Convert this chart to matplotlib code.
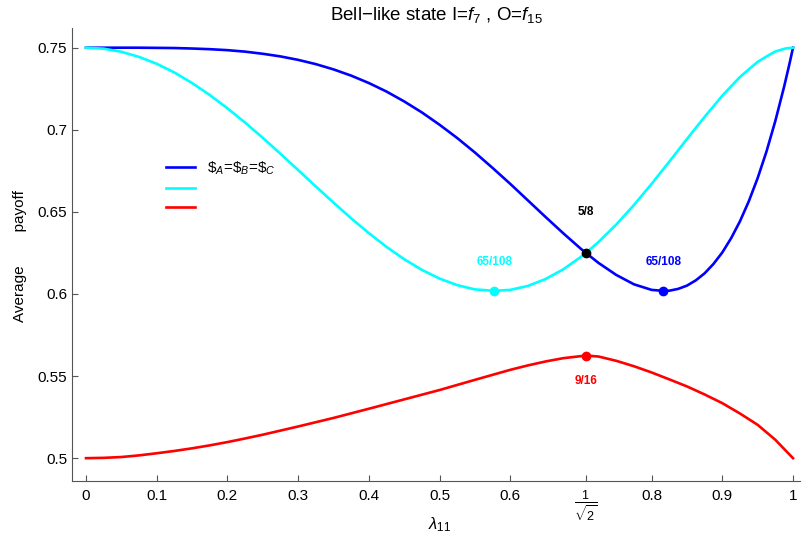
import matplotlib
matplotlib.use("Agg")
import matplotlib.pyplot as plt
from matplotlib import font_manager as fm

# evitar a variante Narrow da Liberation Sans
fm.fontManager.ttflist = [f for f in fm.fontManager.ttflist if "Narrow" not in f.fname]

plt.rcParams['font.family'] = ['Liberation Sans', 'DejaVu Sans']
plt.rcParams['mathtext.fontset'] = 'custom'
plt.rcParams['mathtext.rm'] = 'Liberation Sans'
plt.rcParams['mathtext.it'] = 'Liberation Sans:italic'
plt.rcParams['mathtext.bf'] = 'Liberation Sans:bold'

# valores
lam_azul = [0, 0.025, 0.05, 0.075, 0.1, 0.125, 0.15, 0.175, 0.2, 0.225, 0.25, 0.275, 0.3,
            0.325, 0.35, 0.375, 0.4, 0.425, 0.45, 0.475, 0.5, 0.525, 0.55, 0.575, 0.6,
            0.625, 0.65, 0.675, 0.7, 0.7071, 0.725, 0.75, 0.775, 0.8, 0.8165, 0.825,
            0.8375, 0.85, 0.8625, 0.875, 0.8875, 0.9, 0.9125, 0.925, 0.9375, 0.95,
            0.9625, 0.975, 0.9875, 0.995, 1.0]
payoff_azul = [0.75, 0.75, 0.75, 0.75, 0.7499, 0.7498, 0.7495, 0.7491, 0.7485, 0.7476,
               0.7463, 0.7447, 0.7426, 0.7400, 0.7368, 0.7330, 0.7285, 0.7233, 0.7173,
               0.7106, 0.7031, 0.6950, 0.6862, 0.6768, 0.6671, 0.6570, 0.6469, 0.6370,
               0.6275, 0.625, 0.6189, 0.6116, 0.6059, 0.6025, 0.6019, 0.6020, 0.6031,
               0.6051, 0.6083, 0.6126, 0.6183, 0.6253, 0.6340, 0.6443, 0.6565, 0.6706,
               0.6868, 0.7054, 0.7264, 0.7402, 0.75]

lam_ciano = [0, 0.025, 0.05, 0.075, 0.1, 0.125, 0.15, 0.175, 0.2, 0.225, 0.25, 0.275, 0.3,
             0.325, 0.35, 0.375, 0.4, 0.425, 0.45, 0.475, 0.5, 0.525, 0.55, 0.5774, 0.6,
             0.625, 0.65, 0.675, 0.7, 0.7071, 0.725, 0.75, 0.775, 0.8, 0.825, 0.85, 0.875,
             0.9, 0.925, 0.95, 0.965, 0.975, 0.99, 1.0]
payoff_ciano = [0.75, 0.7494, 0.7475, 0.7444, 0.7402, 0.7349, 0.7285, 0.7212, 0.7131,
                0.7044, 0.6951, 0.6854, 0.6755, 0.6655, 0.6557, 0.6461, 0.6371, 0.6287,
                0.6212, 0.6147, 0.6094, 0.6054, 0.6028, 0.6019, 0.6025, 0.6049, 0.6091,
                0.6150, 0.6226, 0.625, 0.6317, 0.6423, 0.6542, 0.6671, 0.6806, 0.6944,
                0.7079, 0.7208, 0.7322, 0.7414, 0.7453, 0.7477, 0.7496, 0.75]

lam_verm = [0, 0.025, 0.05, 0.075, 0.1, 0.125, 0.15, 0.175, 0.2, 0.225, 0.25, 0.275, 0.3,
            0.35, 0.4, 0.45, 0.5, 0.55, 0.6, 0.625, 0.65, 0.675, 0.7071, 0.725, 0.75,
            0.775, 0.8, 0.825, 0.85, 0.875, 0.9, 0.925, 0.95, 0.975, 1.0]
payoff_verm = [0.5, 0.5002, 0.5007, 0.5017, 0.503, 0.5044, 0.506, 0.5078, 0.5098, 0.512,
               0.5143, 0.5168, 0.5193, 0.5245, 0.5301, 0.5358, 0.5415, 0.5477, 0.5538,
               0.5565, 0.5589, 0.5609, 0.5625, 0.5619, 0.5593, 0.556, 0.5522, 0.548,
               0.5437, 0.5388, 0.5335, 0.5272, 0.5203, 0.5112, 0.5]

# pontos destacados
pontos_x = [0.7071, 0.5774, 0.8165, 0.7071]
pontos_y = [0.625, 0.6019, 0.6019, 0.5625]
pontos_txt = ["5/8", "65/108", "65/108", "9/16"]
pontos_cor = ["black", "#00ffff", "#0000ff", "#ff0000"]
txt_y = [0.650, 0.6197, 0.6197, 0.5472]

xticks = [0, 0.1, 0.2, 0.3, 0.4, 0.5, 0.6, 0.7071, 0.8, 0.9, 1.0]
xtick_labels = ["0", "0.1", "0.2", "0.3", "0.4", "0.5", "0.6", r"$\frac{1}{\sqrt{2}}$", "0.8", "0.9", "1"]
yticks = [0.5, 0.55, 0.6, 0.65, 0.7, 0.75]
ytick_labels = ["0.5", "0.55", "0.6", "0.65", "0.7", "0.75"]

fig = plt.figure(figsize=(8.01, 5.44), dpi=100)
ax = fig.add_axes([72 / 801, 63 / 544, 729 / 801, 453 / 544])

ax.plot(lam_azul, payoff_azul, color="#0000ff", lw=1.9, label=r"\$$_A$=\$$_B$=\$$_C$")
ax.plot(lam_ciano, payoff_ciano, color="#00ffff", lw=1.9, label=" ")
ax.plot(lam_verm, payoff_verm, color="#ff0000", lw=1.9, label=" ")

for x, y, t, c, ty in zip(pontos_x, pontos_y, pontos_txt, pontos_cor, txt_y):
    ax.plot(x, y, "o", color=c, ms=6, zorder=5)
    ax.text(x, ty, t, color=c, fontsize=8.5, fontweight="bold", ha="center", va="center")

ax.set_xlim(-0.0198, 1.0113)
ax.set_ylim(0.4861, 0.762)
ax.set_xticks(xticks)
ax.set_xticklabels(xtick_labels)
ax.set_yticks(yticks)
ax.set_yticklabels(ytick_labels)
ax.tick_params(direction="in", length=4, labelsize=11, color="#555555")
ax.tick_params(axis="x", pad=6)
# rótulo 1/sqrt(2) um pouco maior
ax.get_xticklabels()[7].set_fontsize(13)

for lado in ["top", "right"]:
    ax.spines[lado].set_visible(False)
ax.spines["left"].set_color("#555555")
ax.spines["bottom"].set_color("#555555")

ax.set_title(r"Bell$-$like state I=$f_7$ , O=$f_{15}$", fontsize=13.5, pad=6)
ax.set_xlabel(r"$\lambda_{11}$", fontsize=12, va="center")
ax.xaxis.set_label_coords(0.505, -0.097)
ax.set_ylabel("Average        payoff", fontsize=11, va="center")
ax.yaxis.set_label_coords(-0.071, 0.497)

ax.legend(loc="upper left", bbox_to_anchor=(0.11, 0.74), frameon=False, fontsize=11,
          handlelength=1.9, labelspacing=0.35, handletextpad=0.8)

fig.savefig("out.png", dpi=100)
